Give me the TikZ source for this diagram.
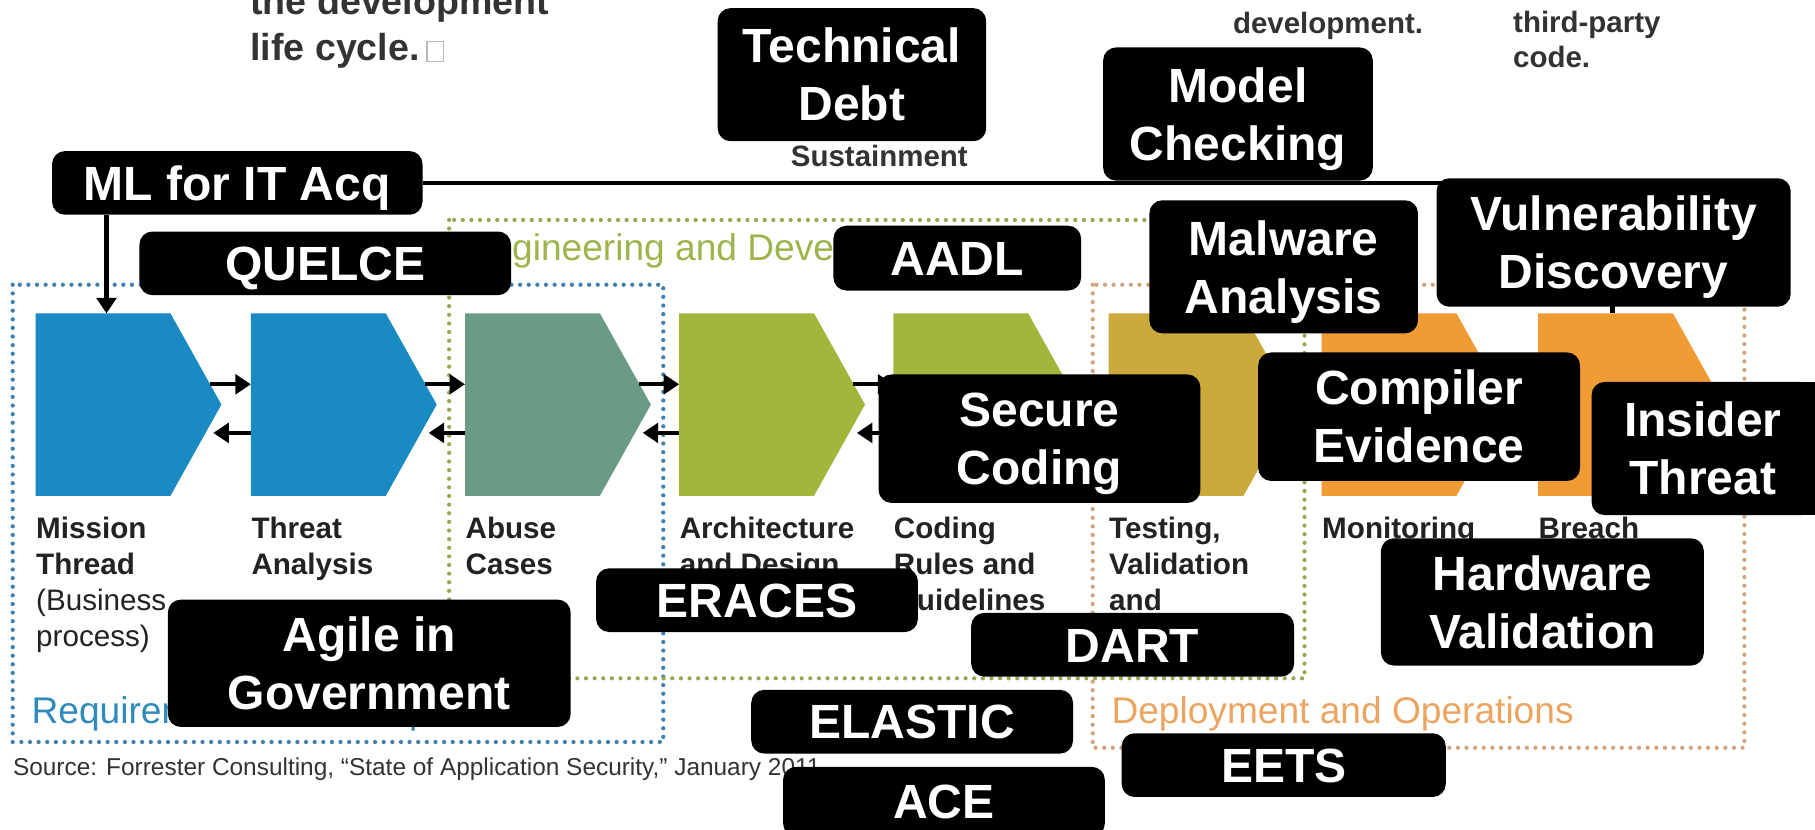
\documentclass[tikz,border=0pt]{standalone}
\usepackage{fontspec}
\setmainfont{Liberation Sans}
\usetikzlibrary{calc,arrows.meta}
\definecolor{pblue}{HTML}{1A8AC2}
\definecolor{pteal}{HTML}{6A9C85}
\definecolor{pgreen}{HTML}{A2B63C}
\definecolor{pmust}{HTML}{CBA93B}
\definecolor{porange}{HTML}{F09B33}
\definecolor{dblue}{HTML}{3F80AE}
\definecolor{dgreen}{HTML}{98A850}
\definecolor{dorange}{HTML}{D2A47A}
\definecolor{tblue}{HTML}{2F8BBA}
\definecolor{tgreen}{HTML}{9DB54C}
\definecolor{torange}{HTML}{EBA560}
\definecolor{ink}{HTML}{222222}
\definecolor{ink2}{HTML}{333333}
\tikzset{
  blk/.style={fill=black, rounded corners=0.28cm, text=white, align=center, inner sep=0pt,
    font=\fontsize{29.5}{35.6}\selectfont\bfseries},
  bx/.style 2 args={blk, minimum width=#1*0.025cm, minimum height=#2*0.025cm},
  one/.style={text height=21.2pt, text depth=0pt},
  two/.style={text height=56.8pt, text depth=0pt},
  lbl/.style={anchor=base west, inner sep=0pt, text=ink, font=\fontsize{18.2}{22}\selectfont\bfseries},
  lblr/.style={anchor=base west, inner sep=0pt, text=ink, font=\fontsize{18.2}{22}\selectfont},
  phase/.style={anchor=base west, inner sep=0pt, font=\fontsize{22.8}{27}\selectfont},
  topbig/.style={anchor=base west, inner sep=0pt, text=ink2, font=\fontsize{23.1}{28}\selectfont\bfseries},
  topsm/.style={anchor=base west, inner sep=0pt, text=ink2, font=\fontsize{18.1}{21.5}\selectfont\bfseries},
  src/.style={anchor=base west, inner sep=0pt, text=ink2, font=\fontsize{15}{18}\selectfont},
  arr/.style={line width=2.6pt, -{Triangle[length=9.5pt,width=12pt]}},
  conn/.style={line width=2.6pt},
  dots/.style={line width=2.6pt, line cap=round, dash pattern=on 0pt off 5.3pt},
  pent/.style={minimum width=116*0.025cm, minimum height=157*0.025cm, inner sep=0pt, draw=none},
}
\begin{document}
\begin{tikzpicture}[x=0.025cm, y=-0.025cm]
\useasboundingbox (0,0) rectangle (1568,717);
\clip (0,0) rectangle (1568,717);
\fill[white] (0,0) rectangle (1568,717);

% top texts
\node[topbig] (t1) at (216,12.5) {the development};
\node[topbig] (t2) at (216,52.5) {life cycle.};
\node[draw=gray!55, line width=0.9pt, minimum width=14*0.025cm, minimum height=17*0.025cm, inner sep=0pt] (glyph) at (376,44.5) {};
\node[topsm] (t3) at (1065,29) {development.};
\node[topsm] (t4) at (1307,28) {third-party};
\node[topsm] (t5) at (1307,58) {code.};
\node[topsm] (t6) at (683,144) {Sustainment};

% phase frames
\draw[dots, dblue] (11,246) rectangle (573,641);
\draw[dots, dgreen] (388,190) rectangle (1127,586);
\draw[dots, dorange] (944,246) rectangle (1507,646);

% phase labels
\node[phase, text=tblue] (ph1) at (27,625) {Requirements and Scope};
\node[phase, text=tgreen] (ph2) at (403,225) {Engineering and Development};
\node[phase, text=torange] (ph3) at (960,625) {Deployment and Operations};

% source
\node[src] (source) at (11,670) {Source: Forrester Consulting, “State of Application Security,” January 2011};

% chevrons
\node[pent] (p1) at (89,349.5) {};
\node[pent] (p2) at (275,349.5) {};
\node[pent] (p3) at (460,349.5) {};
\node[pent] (p4) at (645,349.5) {};
\node[pent] (p5) at (830,349.5) {};
\node[pent] (p6) at (1016,349.5) {};
\node[pent] (p7) at (1200,349.5) {};
\node[pent] (p8) at (1387,349.5) {};
\foreach \n/\c in {p1/pblue,p2/pblue,p3/pteal,p4/pgreen,p5/pgreen,p6/pmust,p7/porange,p8/porange}{
  \fill[\c] (\n.north west) -- (\n.north east) -- ($(\n.east)+(44,0)$) -- (\n.south east) -- (\n.south west) -- cycle;
}
\foreach \a/\b in {p1/p2,p2/p3,p3/p4,p4/p5,p5/p6,p6/p7,p7/p8}{
  \draw[arr] ($(\a.east)+(34,-17.5)$) -- ($(\b.west)+(0,-17.5)$);
  \draw[arr] ($(\b.west)+(0,24.5)$) -- ($(\a.east)+(37,24.5)$);
}

% step labels
\node[lbl] (l1a) at (31,465.5) {Mission};
\node[lbl] (l1b) at (31,496.5) {Thread};
\node[lblr] (l1c) at (31,527.5) {(Business};
\node[lblr] (l1d) at (31,558.5) {process)};
\node[lbl] (l2a) at (217,465.5) {Threat};
\node[lbl] (l2b) at (217,496.5) {Analysis};
\node[lbl] (l3a) at (402,465.5) {Abuse};
\node[lbl] (l3b) at (402,496.5) {Cases};
\node[lbl] (l4a) at (587,465.5) {Architecture};
\node[lbl] (l4b) at (587,496.5) {and Design};
\node[lbl] (l5a) at (772,465.5) {Coding};
\node[lbl] (l5b) at (772,496.5) {Rules and};
\node[lbl] (l5c) at (772,527.5) {Guidelines};
\node[lbl] (l6a) at (958,465.5) {Testing,};
\node[lbl] (l6b) at (958,496.5) {Validation};
\node[lbl] (l6c) at (958,527.5) {and};
\node[lbl] (l7a) at (1142,465.5) {Monitoring};
\node[lbl] (l8a) at (1329,465.5) {Breach};

% black boxes
\node[bx={320}{55}, one] (ml) at (205,158) {ML for IT Acq};
\draw[arr] ($(ml.south)+(-113,0)$) -- ($(p1.north)+(3,0)$);
\draw[conn] (ml.east) -| ($(p8.north)+(6,0)$);

\node[bx={232}{115}, two] (td) at (736,64.5) {Technical\\Debt};
\node[bx={233}{115}, two] (mc) at (1069.5,98.5) {Model\\Checking};
\node[bx={321}{55}, one] (quelce) at (281,227.5) {QUELCE};
\node[bx={214}{56}, one] (aadl) at (827,223) {AADL};
\node[bx={232}{115}, two] (malware) at (1109,230.5) {Malware\\Analysis};
\node[bx={306}{111}, two] (vuln) at (1394,209.5) {Vulnerability\\Discovery};
\node[bx={278}{111}, two] (secure) at (898,379) {Secure\\Coding};
\node[bx={278}{111}, two] (compiler) at (1226,360) {Compiler\\Evidence};
\fill[black] (1450,330) rectangle (1568,445);
\node[bx={192}{115}, two] (insider) at (1471,387.5) {Insider\\Threat};
\node[bx={279}{110}, two] (hw) at (1332.5,520) {Hardware\\Validation};
\node[bx={278}{55}, one] (eraces) at (654,518.5) {ERACES};
\node[bx={279}{55}, one] (dart) at (978.5,557) {DART};
\node[bx={348}{110}, two] (agile) at (319,573) {Agile in\\Government};
\node[bx={278}{55}, one] (elastic) at (788,623.5) {ELASTIC};
\node[bx={280}{55}, one] (eets) at (1109,661) {EETS};
\node[bx={278}{60}, one] (ace) at (815.5,692.5) {ACE};
\end{tikzpicture}
\end{document}
